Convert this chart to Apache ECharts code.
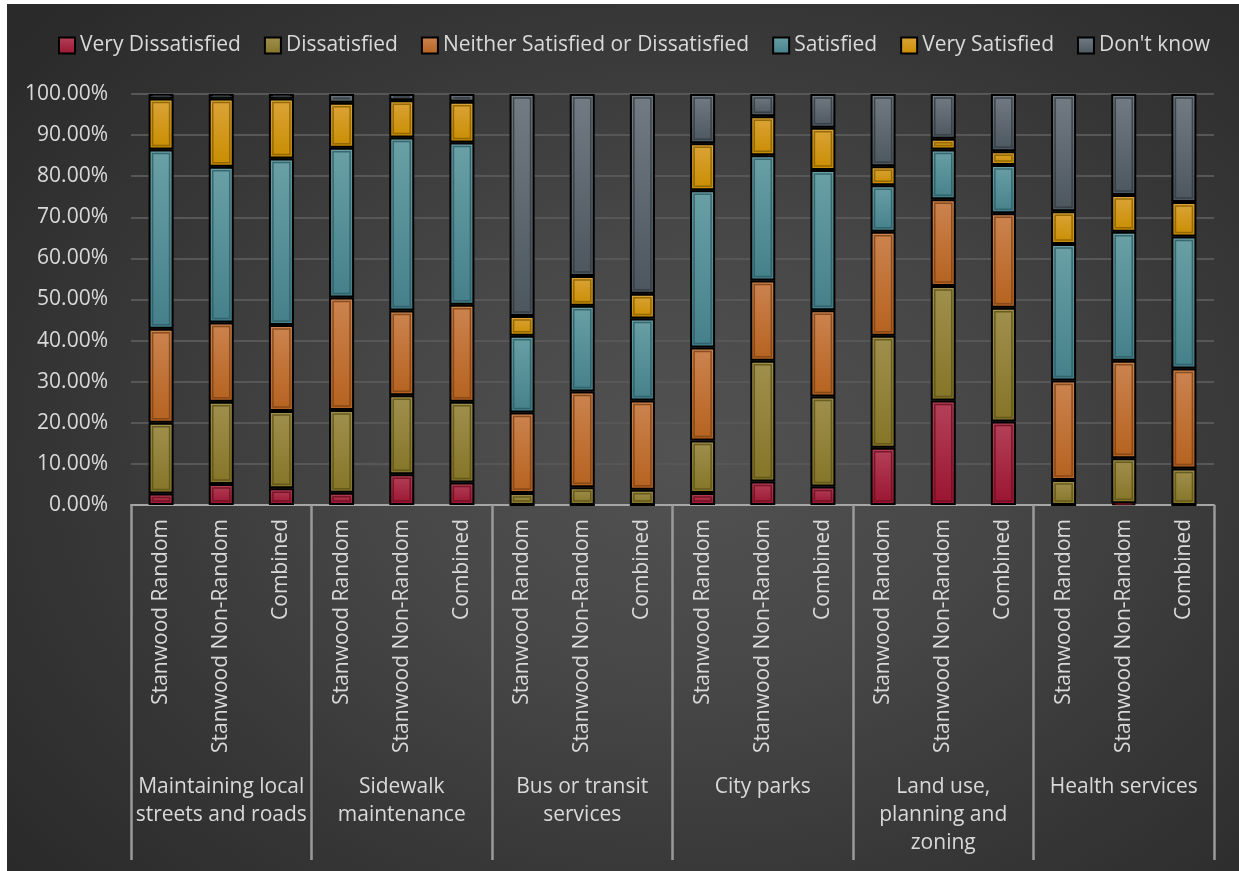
<!DOCTYPE html>
<html>
<head>
<meta charset="utf-8">
<script src="https://cdn.jsdelivr.net/npm/echarts@6/dist/echarts.min.js"></script>
<style>
  html, body { margin: 0; padding: 0; background: #ffffff; }
  #bg { position: absolute; left: 7px; top: 4px; width: 1232px; height: 867px;
        background: radial-gradient(ellipse 70% 75% at 55% 52%, #525252 0%, #474747 35%, #363636 70%, #2a2a2a 100%); }
  #chart { position: absolute; left: 0; top: 0; width: 1239px; height: 871px; }
</style>
</head>
<body>
<div id="bg"></div>
<div id="chart"></div>
<script>
// ---- Data ----
const subCategories = [
  'Stanwood Random', 'Stanwood Non-Random', 'Combined',
  'Stanwood Random', 'Stanwood Non-Random', 'Combined',
  'Stanwood Random', 'Stanwood Non-Random', 'Combined',
  'Stanwood Random', 'Stanwood Non-Random', 'Combined',
  'Stanwood Random', 'Stanwood Non-Random', 'Combined',
  'Stanwood Random', 'Stanwood Non-Random', 'Combined'
];
const groups = [
  'Maintaining local\nstreets and roads',
  'Sidewalk\nmaintenance',
  'Bus or transit\nservices',
  'City parks',
  'Land use,\nplanning and\nzoning',
  'Health services'
];
const seriesNames = ['Very Dissatisfied', 'Dissatisfied', 'Neither Satisfied or Dissatisfied', 'Satisfied', 'Very Satisfied', "Don't know"];
const veryDissatisfied = [2.8, 5.1, 4.1, 3.0, 7.5, 5.5, 0, 0, 0, 2.9, 5.7, 4.5, 13.9, 25.4, 20.3, 0, 0.4, 0];
const dissatisfied     = [17.2, 20.0, 18.8, 20.1, 19.2, 19.6, 2.9, 4.3, 3.7, 12.8, 29.4, 21.9, 27.3, 27.9, 27.7, 6.1, 11.0, 8.9];
const neither          = [22.9, 19.3, 20.9, 27.4, 20.6, 23.6, 19.6, 23.3, 21.7, 22.6, 19.5, 21.0, 25.3, 21.1, 23.0, 24.2, 23.7, 24.3];
const satisfied        = [43.6, 37.9, 40.5, 36.4, 42.1, 39.5, 18.7, 20.9, 20.0, 38.3, 30.5, 34.1, 11.3, 12.1, 11.7, 33.2, 31.4, 32.1];
const verySatisfied    = [12.4, 16.6, 14.6, 11.0, 9.1, 9.9, 4.8, 7.2, 6.0, 11.4, 9.5, 10.3, 4.6, 2.6, 3.4, 8.0, 8.9, 8.4];
const dontKnow         = [1.1, 1.1, 1.1, 2.1, 1.5, 1.9, 54.0, 44.3, 48.6, 12.0, 5.4, 8.2, 17.6, 10.9, 13.9, 28.5, 24.6, 26.3];
const yTicks = [0, 10, 20, 30, 40, 50, 60, 70, 80, 90, 100];

const seriesValues = [veryDissatisfied, dissatisfied, neither, satisfied, verySatisfied, dontKnow];
const palette = [
  ['#b4425a', '#9a1430', '#6e1020'],
  ['#a0904e', '#857528', '#5e5318'],
  ['#cc8450', '#b5621f', '#7f4418'],
  ['#6aa0a6', '#45808a', '#2f5e66'],
  ['#dba43a', '#c98d00', '#8a6200'],
  ['#737c84', '#4c565e', '#353c42']
];

const chart = echarts.init(document.getElementById('chart'), null, { renderer: 'canvas' });
const FONT = "'Open Sans', 'DejaVu Sans', sans-serif";
const TXT = '#d9d9d9';
const FS = 21;
const BAR_W = 25;

const series = seriesNames.map((name, i) => ({
  name: name,
  type: 'bar',
  stack: 'total',
  barWidth: BAR_W,
  xAxisIndex: 0,
  data: seriesValues[i],
  itemStyle: {
    color: new echarts.graphic.LinearGradient(0, 0, 0, 1, [
      { offset: 0, color: palette[i][0] },
      { offset: 1, color: palette[i][1] }
    ]),
    borderColor: '#000000',
    borderWidth: 2
  },
  emphasis: { disabled: true }
}));

// inner bevel outlines, derived from the stacked data through the axes
const bevelData = [];
subCategories.forEach((c, x) => {
  let base = 0;
  seriesValues.forEach((vals, s) => {
    const v = vals[x];
    if (v > 0) bevelData.push([x, base, base + v, s]);
    base += v;
  });
});
series.push({
  name: 'bevel',
  type: 'custom',
  xAxisIndex: 0,
  silent: true,
  z: 5,
  data: bevelData,
  encode: { x: 0, y: [1, 2] },
  renderItem: function (params, api) {
    const x = api.value(0);
    const lo = api.coord([x, api.value(1)]);
    const hi = api.coord([x, api.value(2)]);
    const s = api.value(3);
    const h = lo[1] - hi[1];
    const inset = 4;
    if (h < 2 * inset + 2) {
      return { type: 'rect', shape: { x: lo[0] - BAR_W / 2 + inset, y: hi[1] + h / 2 - 1, width: BAR_W - 2 * inset, height: 2 },
               style: { fill: palette[s][2], opacity: 0.8 } };
    }
    return {
      type: 'rect',
      shape: { x: lo[0] - BAR_W / 2 + inset, y: hi[1] + inset, width: BAR_W - 2 * inset, height: h - 2 * inset },
      style: { fill: 'none', stroke: palette[s][2], lineWidth: 1.5, opacity: 0.85 }
    };
  }
});

chart.setOption({
  backgroundColor: 'transparent',
  animation: false,
  textStyle: { fontFamily: FONT },
  legend: {
    top: 35,
    left: 58,
    padding: 0,
    itemWidth: 16,
    itemHeight: 16,
    itemGap: 23,
    icon: 'rect',
    textStyle: { color: TXT, fontSize: FS, fontFamily: FONT },
    data: seriesNames
  },
  grid: { left: 131, right: 25, top: 94, bottom: 366, containLabel: false },
  xAxis: [
    {
      type: 'category',
      data: subCategories,
      position: 'bottom',
      axisLine: { show: true, lineStyle: { color: '#a6a6a6', width: 2 } },
      axisTick: { show: false },
      axisLabel: { rotate: 90, margin: 14, color: TXT, fontSize: FS, fontFamily: FONT, interval: 0 },
      splitLine: { show: false }
    },
    {
      type: 'category',
      data: groups,
      position: 'bottom',
      offset: 0,
      axisLine: { show: false },
      axisTick: { show: true, length: 355, interval: 0, lineStyle: { color: '#9a9a9a', width: 2.5 } },
      axisLabel: { margin: 268, color: TXT, fontSize: FS, lineHeight: 28, fontFamily: FONT, interval: 0 },
      splitLine: { show: false }
    }
  ],
  yAxis: {
    type: 'value',
    min: yTicks[0],
    max: yTicks[yTicks.length - 1],
    interval: 10,
    axisLine: { show: false },
    axisTick: { show: false },
    axisLabel: { color: TXT, fontSize: FS, fontFamily: FONT, margin: 23, formatter: v => v.toFixed(2) + '%' },
    splitLine: { show: true, lineStyle: { color: '#575757', width: 2 } }
  },
  series: series
});
</script>
</body>
</html>
